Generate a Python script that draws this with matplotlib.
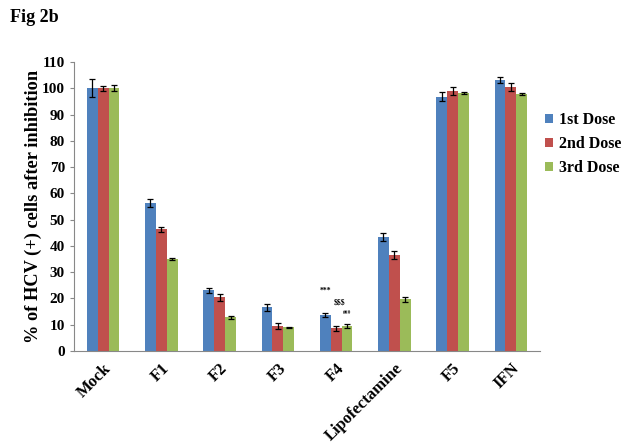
import numpy as np
import matplotlib
matplotlib.use('Agg')
import matplotlib.pyplot as plt

# dados
categorias = ['Mock', 'F1', 'F2', 'F3', 'F4', 'Lipofectamine', 'F5', 'IFN']
dose1 = [100, 56.2, 23.1, 16.6, 13.6, 43.4, 96.8, 103.1]
dose2 = [100, 46.3, 20.4, 9.6, 8.7, 36.5, 98.8, 100.4]
dose3 = [100, 34.9, 12.8, 9.1, 9.5, 19.7, 98.1, 97.8]
err1 = [3.5, 1.5, 1.0, 1.3, 0.7, 1.5, 1.8, 1.1]
err2 = [1.0, 1.0, 1.2, 1.1, 1.0, 1.5, 1.5, 1.6]
err3 = [1.2, 0.4, 0.5, 0.2, 0.9, 1.0, 0.3, 0.3]
series = ['1st Dose', '2nd Dose', '3rd Dose']
cores = ['#4F81BD', '#C0504D', '#9BBB59']

plt.rcParams['font.family'] = 'Liberation Serif'
plt.rcParams['font.weight'] = 'bold'

fig = plt.figure(figsize=(6.24, 4.47), dpi=100)
ax = fig.add_axes([74/624, 96/447, 466/624, 289/447])

x = np.arange(len(categorias))
w = 0.187
for i, (vals, errs) in enumerate(zip([dose1, dose2, dose3], [err1, err2, err3])):
    ax.bar(x + (i - 1) * w, vals, w, color=cores[i], label=series[i],
           yerr=errs, capsize=2.5, error_kw=dict(ecolor='black', elinewidth=0.9, capthick=0.9))

# marcas de significancia em F4
ax.text(4 - w, 21.5, '***', ha='center', va='bottom', fontsize=5.5)
ax.text(4 + 0.05, 17.0, '$$$', ha='center', va='bottom', fontsize=5.5)
ax.text(4 + w, 13.8, '###', ha='center', va='bottom', fontsize=4)

ax.set_xlim(-0.5, len(categorias) - 0.5)
ax.set_ylim(0, 110)
ax.set_yticks(range(0, 111, 10))
ax.set_xticks(x)
ax.set_xticklabels(categorias, rotation=45, ha='right', rotation_mode='anchor', fontsize=12)
ax.tick_params(axis='y', labelsize=11, length=3, color='#888888')
ax.tick_params(axis='x', length=0, pad=7)
for s in ['top', 'right']:
    ax.spines[s].set_visible(False)
ax.spines['left'].set_color('#888888')
ax.spines['bottom'].set_color('#888888')
ax.set_ylabel('% of HCV (+) cells after inhibition', fontsize=13.2, fontweight='bold', labelpad=0)

ax.legend(loc='center left', bbox_to_anchor=(0.996, 0.716), borderaxespad=0, frameon=False,
          fontsize=11.5, handlelength=0.55, handleheight=0.55, handletextpad=0.35, labelspacing=0.5)

fig.text(10/624, 1 - 18/447, 'Fig 2b', fontsize=13, fontweight='bold', va='center')

fig.savefig('out.png', dpi=100)
